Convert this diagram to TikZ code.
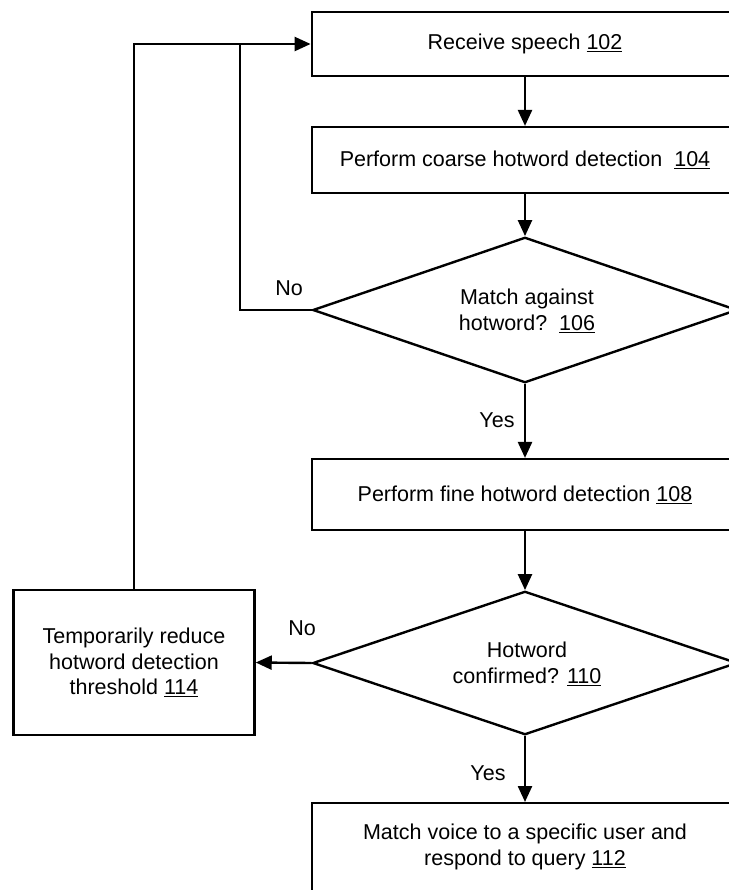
\documentclass[tikz,border=0pt]{standalone}
\usepackage{fontspec}
\setmainfont{Liberation Sans}
\usetikzlibrary{shapes.geometric,arrows.meta}
\tikzset{
  box/.style={draw, line width=2.4bp, rectangle, align=center, inner sep=0pt},
  dia/.style={draw, line width=2.4bp, diamond, align=center, inner sep=0pt},
  conn/.style={line width=2.4bp, -{Triangle[length=16bp,width=14bp]}},
  plain/.style={line width=2.4bp},
  lbl/.style={inner sep=0pt, align=center},
  every node/.style={font=\fontsize{21.5bp}{25.5bp}\selectfont}
}
\begin{document}
\begin{tikzpicture}[x=1bp,y=-1bp]
\useasboundingbox (0,0) rectangle (729,890);
\clip (0,0) rectangle (729,890);
\node[box, minimum width=428, minimum height=64] (n102) at (525,44) {Receive speech \underline{102}};
\node[box, minimum width=428, minimum height=66] (n104) at (525,160) {Perform coarse hotword detection\ \ \underline{104}};
\node[dia, minimum width=426, minimum height=146] (d106) at (525,310) {};
\node[lbl] (t106) at (527,311) {Match against\\hotword?\ \ \underline{106}};
\node[box, minimum width=428, minimum height=71] (n108) at (525,494.5) {Perform fine hotword detection \underline{108}};
\node[dia, minimum width=426, minimum height=144] (d110) at (525,663) {};
\node[lbl] (t110) at (527,664) {Hotword\\confirmed? \underline{110}};
\node[box, minimum width=428, minimum height=130, anchor=north] (n112) at (525,802) {};
\node[lbl] (t112) at (525,847) {Match voice to a specific user and\\respond to query \underline{112}};
\node[box, minimum width=242, minimum height=145] (n114) at (134,662.5) {Temporarily reduce\\hotword detection\\threshold \underline{114}};
\coordinate (j) at (240,44);
\draw[conn] (n102.south) -- (n104.north);
\draw[conn] (n104.south) -- (d106.north);
\draw[conn] (d106.south) -- (n108.north);
\draw[conn] (n108.south) -- (d110.north);
\draw[conn] (d110.south) -- (n112.north);
\draw[conn] (d110.west) -- (n114.east);
\draw[conn] (n114.north) |- (n102.west);
\draw[plain] (d106.west) -| (j);
\node[lbl] (no1) at (289,288) {No};
\node[lbl] (yes1) at (497,420) {Yes};
\node[lbl] (no2) at (302,628) {No};
\node[lbl] (yes2) at (488,773) {Yes};
\end{tikzpicture}
\end{document}
